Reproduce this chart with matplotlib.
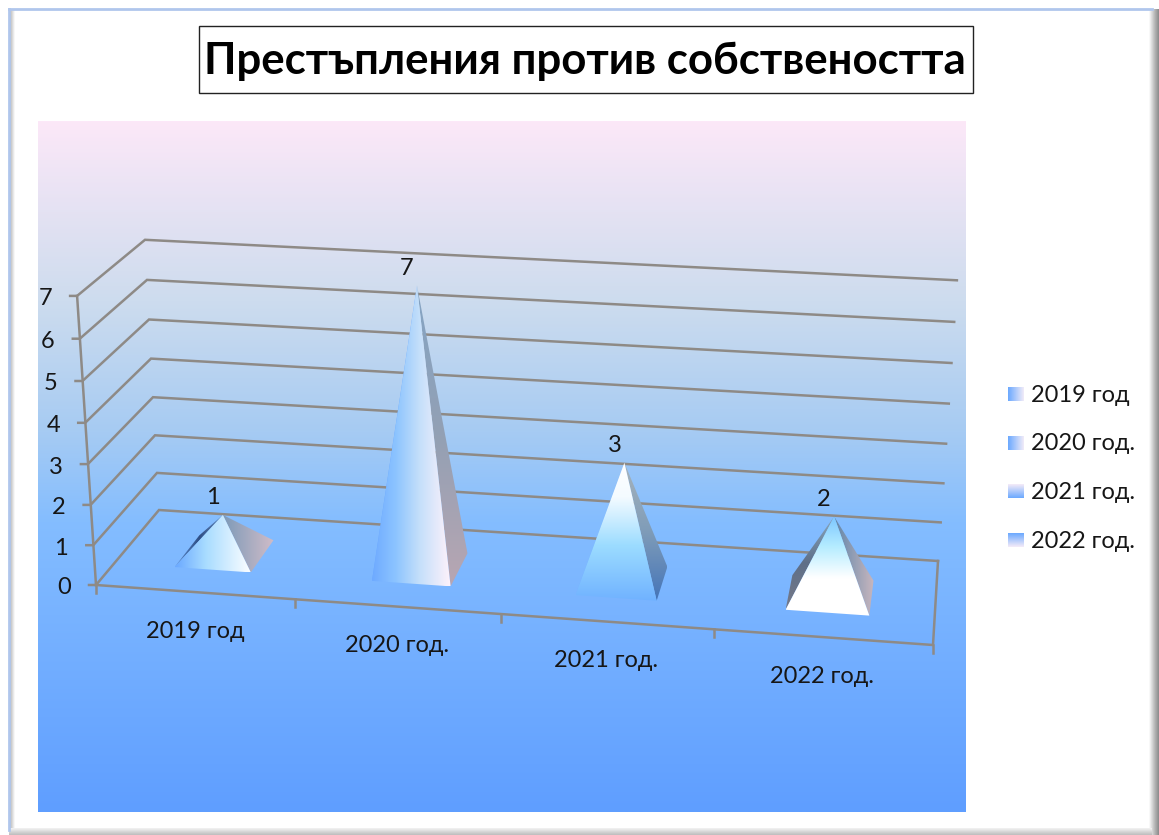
import numpy as np
import matplotlib
matplotlib.use("Agg")
import matplotlib.pyplot as plt
from matplotlib.colors import to_rgb
from matplotlib.patches import Polygon, Rectangle

categories = ["2019 год", "2020 год.", "2021 год.", "2022 год."]
values = [1, 7, 3, 2]
y_ticks = [0, 1, 2, 3, 4, 5, 6, 7]
title = "Престъпления против собствеността"

LINE = "#8e8a86"
TEXT = "#161616"
LABEL_SIZE = 17
plt.rcParams["font.family"] = ["Lato", "Open Sans", "DejaVu Sans"]

# floor corners of the 3d box in pixels: front left, front right, back right, back left
FLOOR = [(96, 585), (933, 645), (938, 561), (159, 510)]
# pixel lean and rise per value unit, same corner order
LEAN = [-2.7, 2.6, 2.7, -2.0]
RISE = [41.3, 41.0, 40.1, 38.6]
BOW = 0.25  # gridlines spread a little towards the top
YMAX = y_ticks[-1]
BAR_U = (0.31, 0.70)
BAR_D = (0.28, 0.70)


def floor_matrix():
    rows, rhs = [], []
    for (u, d), (x, y) in zip([(0, 0), (1, 0), (1, 1), (0, 1)], FLOOR):
        rows.append([u, d, 1, 0, 0, 0, -u * x, -d * x])
        rows.append([0, 0, 0, u, d, 1, -u * y, -d * y])
        rhs += [x, y]
    return np.append(np.linalg.solve(np.array(rows, float), np.array(rhs, float)), 1).reshape(3, 3)


H = floor_matrix()


def bilin(c, u, d):
    return c[0] * (1 - u) * (1 - d) + c[1] * u * (1 - d) + c[2] * u * d + c[3] * (1 - u) * d


def proj(cat, d, v):
    # cat runs 0..n categories along the front edge, d 0..1 front to back
    u = cat / len(categories)
    p = H @ np.array([u, d, 1.0])
    height = bilin(RISE, u, d) * v + BOW * v * (v - YMAX)
    return p[0] / p[2] + bilin(LEAN, u, d) * v, p[1] / p[2] - height


def gradient(ax, box, stops, vertical=True, clip=None, zorder=1):
    x0, x1, y0, y1 = box
    t = np.linspace(0, 1, 256)
    pos = [s[0] for s in stops]
    cols = np.array([to_rgb(s[1]) for s in stops])
    rgb = np.stack([np.interp(t, pos, cols[:, i]) for i in range(3)], axis=-1)
    img = rgb[:, None, :] if vertical else rgb[None, :, :]
    im = ax.imshow(img, extent=(x0, x1, y1, y0), origin="upper", aspect="auto",
                   interpolation="bilinear", zorder=zorder)
    if clip is not None:
        patch = Polygon(clip, closed=True, transform=ax.transData, fc="none", ec="none")
        ax.add_patch(patch)
        im.set_clip_path(patch)


def face(ax, pts, stops, vertical=True, zorder=3):
    xs = [p[0] for p in pts]
    ys = [p[1] for p in pts]
    gradient(ax, (min(xs), max(xs), min(ys), max(ys)), stops, vertical, clip=pts, zorder=zorder)


# face colours per pyramid: (stops, vertical) for front, left, right
FACES = [
    (([(0, "#6aa8ff"), (.4, "#a8dcff"), (1, "#ffffff")], False),
     ([(0, "#5f8fd0"), (.5, "#2f4f86"), (1, "#6a90c0")], False),
     ([(0, "#7d9ab8"), (1, "#d0bcc8")], False)),
    (([(0, "#6eaaff"), (.3, "#8cc4ff"), (.6, "#c4dffa"), (1, "#fff2fb")], False),
     ([(0, "#6aa8ff"), (1, "#6aa8ff")], False),
     ([(0, "#84a4c4"), (.5, "#93a0b4"), (1, "#b8a6b2")], True)),
    (([(0, "#ffffff"), (.25, "#f4fbff"), (.6, "#9cdcff"), (1, "#70b2ff")], True),
     ([(0, "#70b2ff"), (1, "#70b2ff")], True),
     ([(0, "#a8b4bc"), (.5, "#7f9cb8"), (1, "#4474b8")], True)),
    (([(0, "#7cc6ff"), (.3, "#b4ecff"), (.62, "#ffffff"), (1, "#ffffff")], True),
     ([(0, "#88a8c0"), (.5, "#5e6f88"), (1, "#777a88")], True),
     ([(0, "#5f86aa"), (1, "#c8b6be")], False)),
]
LEGEND_STOPS = [
    ([(0, "#6aa8ff"), (1, "#f2ecf8")], False),
    ([(0, "#6aa8ff"), (1, "#f2ecf8")], False),
    ([(0, "#f6ecf8"), (1, "#6aa8ff")], True),
    ([(0, "#6aa8ff"), (1, "#f6ecf8")], True),
]

fig = plt.figure(figsize=(11.59, 8.35), dpi=100)
ax = fig.add_axes([0, 0, 1, 1])
ax.axis("off")

# outer frame
gradient(ax, (9, 15, 9, 830), [(0, "#a8a8a8"), (1, "#ffffff")], False)
gradient(ax, (1149, 1159, 9, 835), [(0, "#ffffff"), (.6, "#b4b4b4"), (1, "#8a8a8a")], False)
gradient(ax, (9, 1152, 828, 835), [(0, "#f4f4f4"), (1, "#bcbcbc")], True)
ax.plot([9, 1152], [9, 9], color="#b0c6ec", lw=2, zorder=2)
ax.plot([9, 9], [9, 830], color="#b0c6ec", lw=2, zorder=2)

# plot area background
gradient(ax, (38, 966, 121, 812),
         [(0, "#fce8f8"), (.26, "#cddcee"), (.45, "#a6cbf3"), (.58, "#84bdff"), (1, "#5f9eff")])

# walls and floor grid
for v in y_ticks:
    x0, y0 = proj(0, 0, v)
    x1, y1 = proj(0, 1, v)
    x2, y2 = proj(len(categories), 1, v)
    ax.plot([x0 - 7, x0, x1, x2], [y0, y0, y1, y2], color=LINE, lw=1.8, zorder=2, solid_joinstyle="miter")
    ax.text(x0 - 32, y0 + 3, str(v), fontsize=LABEL_SIZE, color=TEXT, ha="center", va="center", zorder=5)

xa, ya = proj(0, 0, 0)
xb, yb = proj(0, 0, YMAX)
ax.plot([xa, xb], [ya, yb], color=LINE, lw=1.8, zorder=2)
xc, yc = proj(len(categories), 0, 0)
xd, yd = proj(len(categories), 1, 0)
ax.plot([xa, xc, xd], [ya, yc, yd], color=LINE, lw=1.8, zorder=2)
for i in range(len(categories) + 1):
    xt, yt = proj(i, 0, 0)
    ax.plot([xt, xt], [yt, yt + 8], color=LINE, lw=1.8, zorder=2)

# pyramids
for i, (cat, val) in enumerate(zip(categories, values)):
    fl = proj(i + BAR_U[0], BAR_D[0], 0)
    fr = proj(i + BAR_U[1], BAR_D[0], 0)
    br = proj(i + BAR_U[1], BAR_D[1], 0)
    bl = proj(i + BAR_U[0], BAR_D[1], 0)
    top = proj(i + sum(BAR_U) / 2, sum(BAR_D) / 2, val)
    front, left, right = FACES[i]
    face(ax, [bl, fl, top], left[0], left[1])
    face(ax, [fr, br, top], right[0], right[1])
    face(ax, [fl, fr, top], front[0], front[1], zorder=4)
    ax.text(top[0] - 10, top[1] - 17, str(val), fontsize=LABEL_SIZE, color=TEXT, ha="center", va="center", zorder=5)
    lx, ly = proj(i + 0.5, 0, 0)
    ax.text(lx, ly + 39, cat, fontsize=LABEL_SIZE, color=TEXT, ha="center", va="center", zorder=5)

# legend
for i, (cat, stops) in enumerate(zip(categories, LEGEND_STOPS)):
    cy = 394 + i * 48.7
    gradient(ax, (1008, 1024, cy - 7, cy + 7), stops[0], stops[1], zorder=3)
    ax.text(1031, cy + 1, cat, fontsize=LABEL_SIZE, color=TEXT, ha="left", va="center", zorder=5)

# title box
ax.add_patch(Rectangle((199, 26), 774, 67, fc="white", ec="#222222", lw=1, zorder=5))
ax.text(585, 61, title, fontsize=31.5, fontweight="bold", color="black", ha="center", va="center", zorder=6)

ax.set_xlim(0, 1159)
ax.set_ylim(835, 0)
fig.savefig("out.png", dpi=100)
